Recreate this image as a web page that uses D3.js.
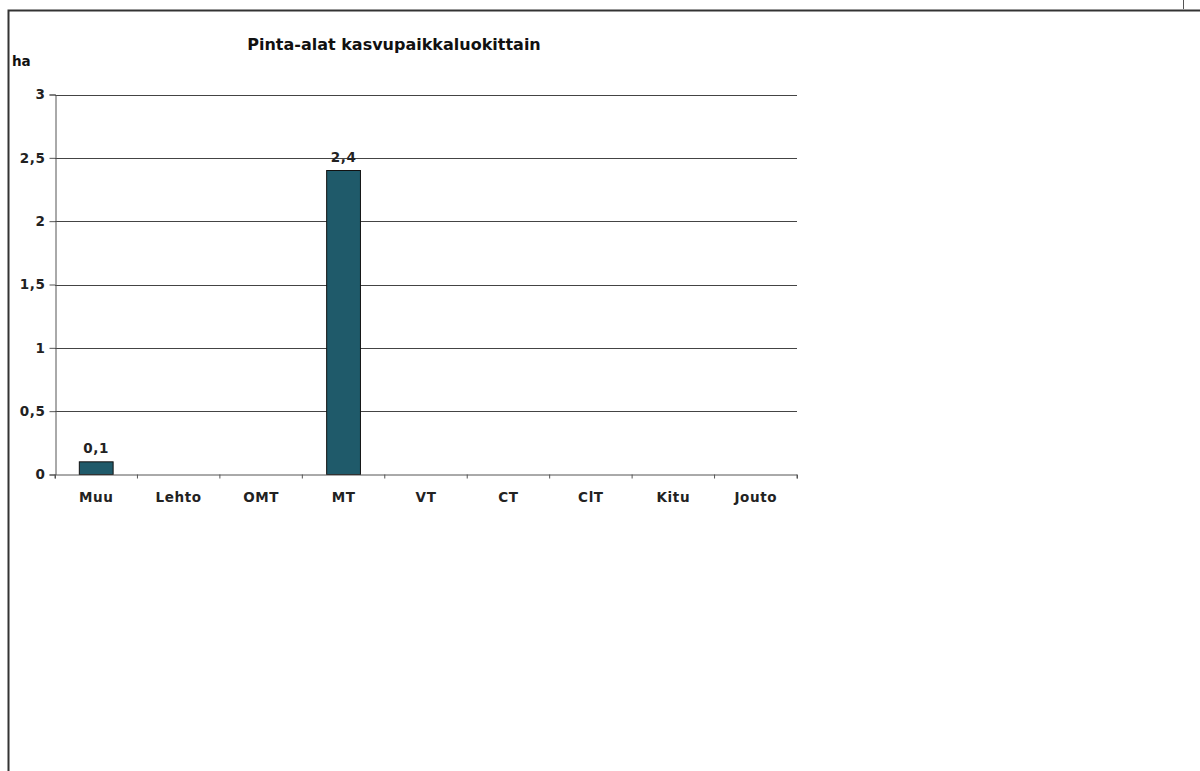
<!DOCTYPE html>
<html><head><meta charset="utf-8">
<script src="https://cdn.jsdelivr.net/npm/d3@7"></script>
<style>body{margin:0;background:#fff}svg{display:block}</style>
</head><body>
<script>
const categories = ["Muu","Lehto","OMT","MT","VT","CT","ClT","Kitu","Jouto"];
const values = [0.1, 0, 0, 2.4, 0, 0, 0, 0, 0];
const labels = ["0,1", null, null, "2,4", null, null, null, null, null];
const yTicks = [0, 0.5, 1, 1.5, 2, 2.5, 3];
const title = "Pinta-alat kasvupaikkaluokittain";
const unit = "ha";

(function(){
const W = 1200, H = 771;
const svg = d3.select("body").append("svg").attr("width", W).attr("height", H);
const font = "'DejaVu Sans', Verdana, sans-serif";
const fs = 13.5, ls = 0.6;

// frame
svg.append("path").attr("d", `M8.5,${H} V10.5 H${W}`).attr("fill","none").attr("stroke","#333").attr("stroke-width",2);
svg.append("line").attr("x1",1183.5).attr("x2",1183.5).attr("y1",0).attr("y2",9).attr("stroke","#555").attr("stroke-width",1);

const pl = 55, pr = 797, pt = 94.5, pb = 474.5;
const x = d3.scaleBand().domain(categories).range([pl, pr]).paddingInner(0.59).paddingOuter(0.295);
const xb = d3.scaleBand().domain(categories).range([pl, pr]);
const y = d3.scaleLinear().domain([0, 3]).range([pb, pt]);

// gridlines
svg.append("g").selectAll("line").data(yTicks.filter(d => d > 0)).join("line")
  .attr("x1", pl).attr("x2", pr).attr("y1", d => Math.round(y(d))+0.5).attr("y2", d => Math.round(y(d))+0.5)
  .attr("stroke", "#444").attr("stroke-width", 1);

// y axis
const yAxis = d3.axisLeft(y).tickValues(yTicks).tickSize(6).tickFormat(d => String(d).replace(".", ","));
const gy = svg.append("g").attr("transform", `translate(${pl+0.5},0)`).call(yAxis);
gy.select(".domain").attr("stroke", "#555");
gy.selectAll(".tick line").attr("stroke", "#555");
gy.selectAll("text").attr("font-family", font).attr("font-weight", "bold").attr("font-size", fs)
  .attr("letter-spacing", ls).attr("fill", "#222").attr("x", -10);

// bars
svg.append("g").selectAll("rect").data(values).join("rect")
  .attr("x", (d,i) => x(categories[i])).attr("width", x.bandwidth())
  .attr("y", d => y(d)).attr("height", d => y(0) - y(d))
  .attr("fill", "#1f5a6a").attr("stroke", "#111").attr("stroke-width", 1);

// x axis
const xAxis = d3.axisBottom(xb).tickSize(4).tickFormat(d => d);
const gx = svg.append("g").attr("transform", `translate(0,${pb})`).call(xAxis);
gx.select(".domain").attr("stroke", "#555");
gx.selectAll(".tick line").attr("stroke", "#555").attr("transform", `translate(${-xb.bandwidth()/2},0)`);
svg.append("line").attr("x1", pr).attr("x2", pr).attr("y1", pb).attr("y2", pb+4).attr("stroke","#555");
gx.selectAll("text").attr("font-family", font).attr("font-weight", "bold").attr("font-size", fs)
  .attr("letter-spacing", ls).attr("fill", "#222").attr("dy", 0).attr("y", 27);

// value labels
svg.append("g").selectAll("text").data(values.map((v,i)=>({v,i,l:labels[i]})).filter(d => d.l)).join("text")
  .attr("x", d => x(categories[d.i]) + x.bandwidth()/2).attr("y", d => y(d.v) - 9)
  .attr("text-anchor", "middle").attr("font-family", font).attr("font-weight", "bold").attr("font-size", fs)
  .attr("letter-spacing", ls).attr("fill", "#222")
  .text(d => d.l);

// title & unit
svg.append("text").attr("x", 394).attr("y", 50).attr("text-anchor", "middle").attr("font-family", font)
  .attr("font-weight", "bold").attr("font-size", 16).attr("fill", "#111").text(title);
svg.append("text").attr("x", 12).attr("y", 66).attr("font-family", font)
  .attr("font-weight", "bold").attr("font-size", fs).attr("fill", "#111").text(unit);
})();
</script>
</body></html>
